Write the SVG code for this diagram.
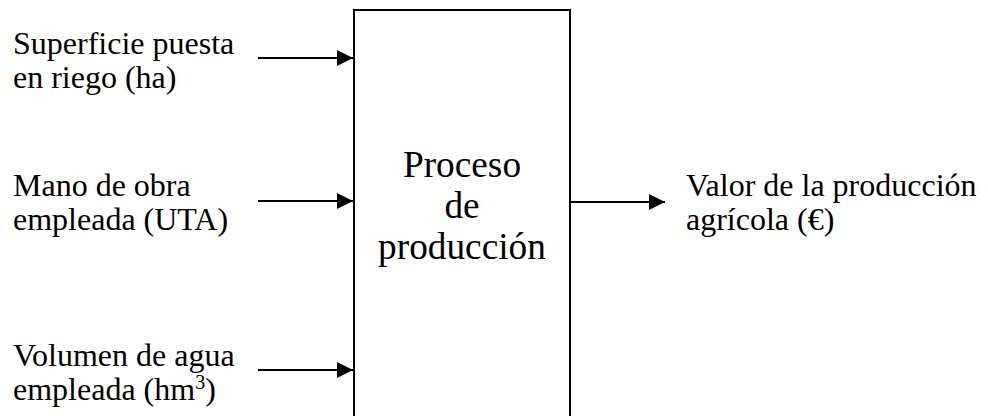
<svg xmlns="http://www.w3.org/2000/svg" width="988" height="416" viewBox="0 0 988 416">
  <style>
    .lbl { font-family: "Liberation Serif", "Times New Roman", serif; font-size: 32px; fill: #000; }
    .box-text { font-family: "Liberation Serif", "Times New Roman", serif; font-size: 37.3px; fill: #000; text-anchor: middle; }
    .box { fill: #fff; stroke: #000; stroke-width: 2; }
    .conn { stroke: #000; stroke-width: 2; fill: none; }
  </style>
  <defs>
    <marker id="arrow" viewBox="0 0 16 16" refX="16" refY="8" markerWidth="16" markerHeight="16" markerUnits="userSpaceOnUse" orient="auto">
      <path d="M0,0 L16,8 L0,16 Z" fill="#000"/>
    </marker>
  </defs>

  <rect width="988" height="416" fill="#fff"/>

  <!-- production process block (open at the bottom edge) -->
  <g id="proceso">
    <rect class="box" x="354" y="10" width="216" height="420"/>
    <text class="box-text" x="462" y="177">Proceso</text>
    <text class="box-text" x="462" y="218">de</text>
    <text class="box-text" x="462" y="259">producción</text>
  </g>

  <!-- inputs -->
  <g id="superficie">
    <text class="lbl" x="13" y="54">Superficie puesta</text>
    <text class="lbl" x="13" y="88">en riego (ha)</text>
  </g>
  <g id="mano-obra">
    <text class="lbl" x="13" y="196">Mano de obra</text>
    <text class="lbl" x="13" y="230">empleada (UTA)</text>
  </g>
  <g id="agua">
    <text class="lbl" x="13" y="366">Volumen de agua</text>
    <text class="lbl" x="13" y="400">empleada (hm<tspan font-size="20" dy="-11">3</tspan><tspan dy="11">)</tspan></text>
  </g>

  <!-- output -->
  <g id="valor">
    <text class="lbl" x="686" y="196">Valor de la producción</text>
    <text class="lbl" x="686" y="230">agrícola (€)</text>
  </g>

  <g id="connectors">
    <line class="conn" x1="258" y1="58" x2="353" y2="58" marker-end="url(#arrow)"/>
    <line class="conn" x1="258" y1="201" x2="353" y2="201" marker-end="url(#arrow)"/>
    <line class="conn" x1="258" y1="370" x2="353" y2="370" marker-end="url(#arrow)"/>
    <line class="conn" x1="570" y1="202" x2="665" y2="202" marker-end="url(#arrow)"/>
  </g>
</svg>
